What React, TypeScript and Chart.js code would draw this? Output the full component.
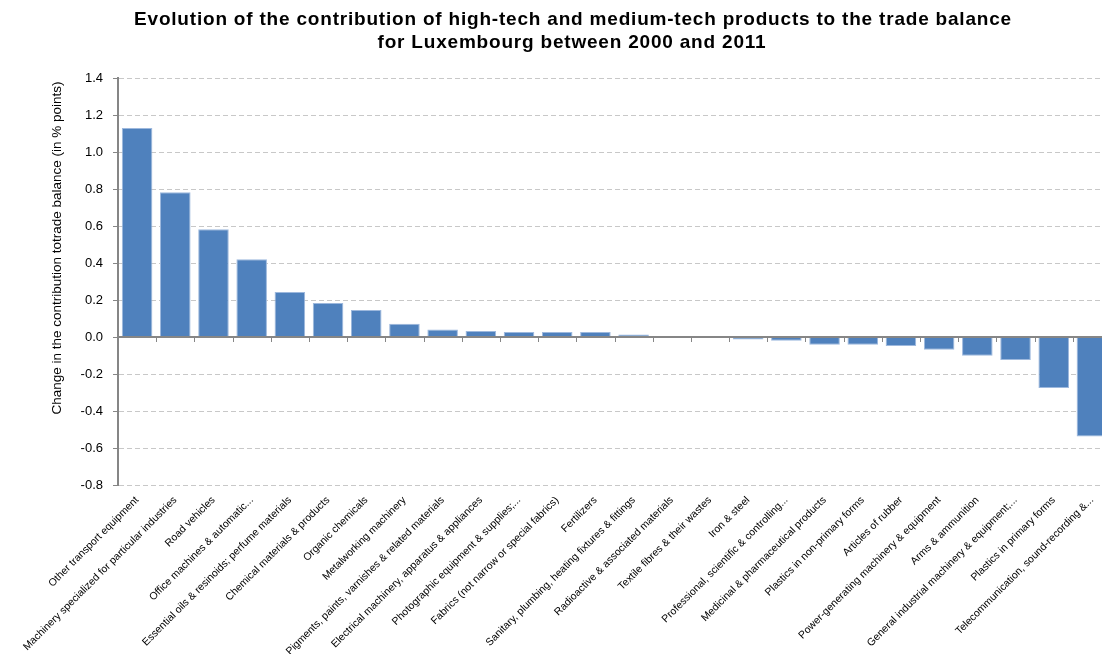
import React, { useEffect, useRef } from "react";
import { Chart, registerables } from "chart.js";

Chart.register(...registerables);

const titleLines = [
  "Evolution of the contribution of high-tech and medium-tech products to the trade balance",
  "for Luxembourg between 2000 and 2011",
];

const yAxisTitle = "Change in the contribution totrade balance (in % points)";

const categories = [
  "Other transport equipment",
  "Machinery specialized for particular industries",
  "Road vehicles",
  "Office machines & automatic...",
  "Essential oils & resinoids; perfume materials",
  "Chemical materials & products",
  "Organic chemicals",
  "Metalworking machinery",
  "Pigments, paints, varnishes & related materials",
  "Electrical machinery, apparatus & appliances",
  "Photographic equipment & supplies;...",
  "Fabrics (not narrow or special fabrics)",
  "Fertilizers",
  "Sanitary, plumbing, heating fixtures & fittings",
  "Radioactive & associated materials",
  "Textile fibres & their wastes",
  "Iron & steel",
  "Professional, scientific & controlling...",
  "Medicinal & pharmaceutical products",
  "Plastics in non-primary forms",
  "Articles of rubber",
  "Power-generating machinery & equipment",
  "Arms & ammunition",
  "General industrial machinery & equipment;...",
  "Plastics in primary forms",
  "Telecommunication, sound-recording &...",
];

const values = [
  1.13, 0.783, 0.583, 0.42, 0.243, 0.184, 0.146, 0.071, 0.04, 0.032, 0.027,
  0.027, 0.027, 0.013, 0.002, 0.001, -0.013, -0.02, -0.042, -0.042, -0.049,
  -0.069, -0.102, -0.124, -0.276, -0.538,
];

const yMin = -0.8;
const yMax = 1.4;
const yStep = 0.2;

const overlayPlugin = {
  id: "overlay",
  afterDatasetsDraw(chart: any) {
    const { ctx, chartArea, scales } = chart;
    const y0 = Math.round(scales.y.getPixelForValue(0));
    ctx.save();
    ctx.strokeStyle = "#868686";
    ctx.lineWidth = 2;
    ctx.beginPath();
    ctx.moveTo(chartArea.left, y0);
    ctx.lineTo(chartArea.right, y0);
    ctx.stroke();
    ctx.lineWidth = 1;
    const n = categories.length;
    const w = (chartArea.right - chartArea.left) / n;
    ctx.beginPath();
    for (let i = 1; i <= n; i++) {
      const x = Math.round(chartArea.left + i * w) + 0.5;
      ctx.moveTo(x, y0);
      ctx.lineTo(x, y0 + 5);
    }
    ctx.stroke();
    ctx.restore();
  },
  afterDraw(chart: any) {
    const { ctx } = chart;
    ctx.save();
    ctx.fillStyle = "#000";
    ctx.textAlign = "center";
    ctx.textBaseline = "middle";
    ctx.font = 'bold 19px "Liberation Sans", Arial, sans-serif';
    try {
      (ctx as any).letterSpacing = "0.8px";
    } catch (e) {}
    ctx.fillText(titleLines[0], 573, 20);
    ctx.fillText(titleLines[1], 572, 43);
    try {
      (ctx as any).letterSpacing = "0px";
    } catch (e) {}
    ctx.translate(57, 248);
    ctx.rotate(-Math.PI / 2);
    ctx.font = '13.5px "Liberation Sans", Arial, sans-serif';
    ctx.fillText(yAxisTitle, 0, 0);
    ctx.restore();
  },
};

export default function App() {
  const ref = useRef<HTMLCanvasElement | null>(null);
  useEffect(() => {
    if (!ref.current) return;
    const chart = new Chart(ref.current, {
      type: "bar",
      data: {
        labels: categories,
        datasets: [
          {
            data: values,
            backgroundColor: "#4F81BD",
            borderColor: "#9DB8DD",
            borderWidth: 1,
            barPercentage: 0.8,
            categoryPercentage: 1,
          },
        ],
      },
      options: {
        responsive: false,
        animation: false,
        layout: { padding: { top: 78, right: 9, left: 0, bottom: 0 } },
        plugins: {
          legend: { display: false },
          title: { display: false },
          tooltip: { enabled: false },
        },
        scales: {
          x: {
            grid: { display: false, drawTicks: false },
            border: { display: false },
            ticks: {
              autoSkip: false,
              maxRotation: 45,
              minRotation: 45,
              padding: 9,
              color: "#000",
              font: { family: '"Liberation Sans", Arial, sans-serif', size: 10.5 },
            },
            afterFit(scale: any) {
              scale.height = 169;
            },
          },
          y: {
            min: yMin,
            max: yMax,
            ticks: {
              stepSize: yStep,
              padding: 10,
              color: "#000",
              font: { family: '"Liberation Sans", Arial, sans-serif', size: 13 },
              callback: (v: any) => Number(v).toFixed(1),
            },
            grid: {
              color: (c: any) =>
                c.tick && Math.abs(c.tick.value) < 1e-9 ? "rgba(0,0,0,0)" : "#C8C8C8",
              drawTicks: true,
              tickLength: 5,
              tickColor: "#868686",
            },
            border: { display: true, color: "#868686", width: 2, dash: [5, 3] },
            afterFit(scale: any) {
              scale.width = 118;
            },
          },
        },
      },
      plugins: [overlayPlugin],
    });
    return () => chart.destroy();
  }, []);
  return (
    <div
      style={{
        position: "absolute",
        left: 0,
        top: 0,
        width: 1102,
        height: 654,
        overflow: "hidden",
        background: "#fff",
      }}
    >
      <canvas ref={ref} width={1120} height={654} style={{ display: "block" }} />
    </div>
  );
}
